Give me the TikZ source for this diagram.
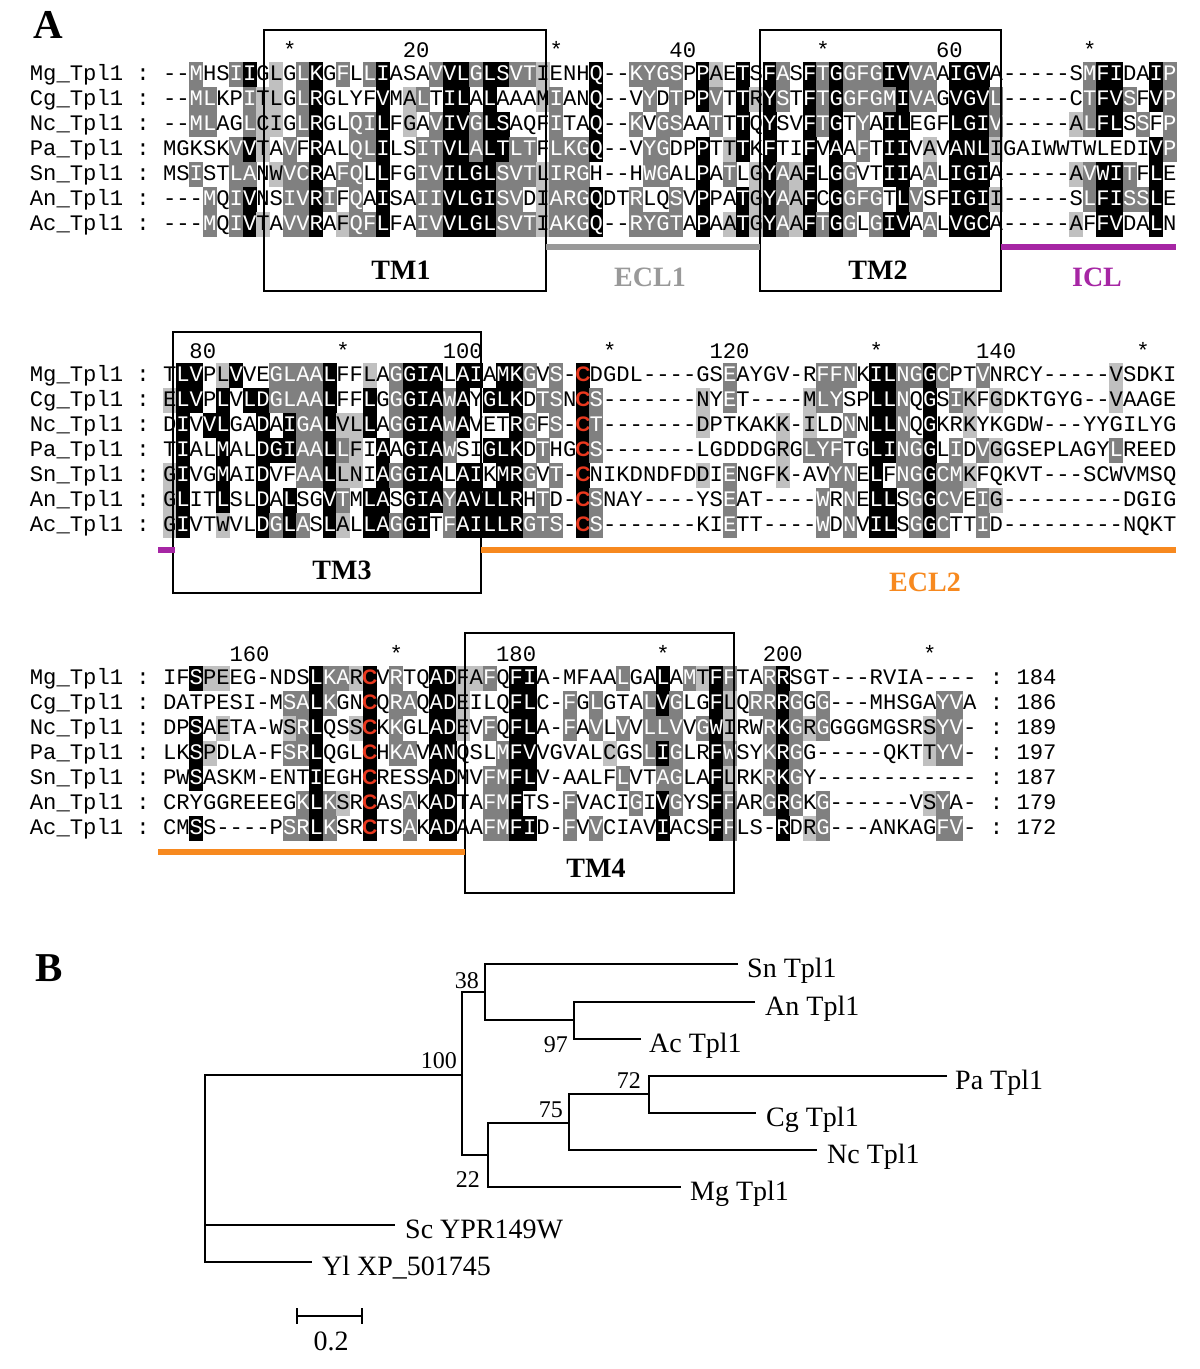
\documentclass[tikz,border=0pt]{standalone}
\usepackage{fontspec}
\setmainfont{Liberation Serif}
\setmonofont{Liberation Mono}
\newfontfamily\cysfont{Liberation Sans}
\usepackage{tikz}
\definecolor{lgrey}{HTML}{C0C0C0}
\definecolor{dgrey}{HTML}{808080}
\definecolor{cysred}{HTML}{E8381E}
\definecolor{eclgrey}{HTML}{999999}
\definecolor{iclpurple}{HTML}{A626A4}
\definecolor{eclorange}{HTML}{F7891F}

\newcommand{\seqfont}{\ttfamily\fontsize{22.2}{24}\selectfont}
\newcount\colno
% one residue: #1 letter, #2 shade code (0 white, 1 light, 2 dark, 3 black, 4 red C)
\newcommand{\seqcell}[2]{%
  \ifnum#2>0
    \fill[cell#2] ({163+13.3333*\the\colno-0.3},{\rowy-12.8}) rectangle ++(13.93,25.6);
  \fi
  \node[res,res#2] (\rowtag-\the\colno) at ({169.667+13.3333*\the\colno},{\rowy+6.3}) {#1};}
\def\seqstep#1#2\relax#3#4\relax{%
  \seqcell{#1}{#3}%
  \global\advance\colno by 1
  \ifx\relax#2\relax\else\seqstep#2\relax#4\relax\fi}
% #1 row centre, #2 block, #3 species, #4 residues, #5 shades
\newcommand{\seqrow}[5]{%
  \def\rowy{#1}\def\rowtag{#2#3}%
  \node[res,anchor=base west] (#2#3-name) at (29.7,{#1+6.3}) {#3\_Tpl1 :};
  \global\colno=0
  \seqstep#4\relax#5 00000000\relax}

\begin{document}
\begin{tikzpicture}[x=1pt,y=-1pt,
  res/.style={anchor=base,inner sep=0pt,font=\seqfont},
  res0/.style={text=black}, res1/.style={text=black},
  res2/.style={text=white}, res3/.style={text=white},
  res4/.style={text=cysred,font=\cysfont\bfseries\fontsize{21}{21}\selectfont},
  cell1/.style={fill=lgrey}, cell2/.style={fill=dgrey},
  cell3/.style={fill=black}, cell4/.style={fill=black},
  tmbox/.style={draw=black,line width=1.4pt},
  tmlbl/.style={font=\bfseries\fontsize{28}{28}\selectfont,inner sep=0pt},
  bar/.style={line width=6pt},
  panel/.style={font=\bfseries\fontsize{41}{41}\selectfont,inner sep=0pt,anchor=base west},
  branch/.style={line width=2.5pt,line join=miter},
  leaf/.style={font=\fontsize{28}{28}\selectfont,inner sep=0pt,anchor=base west},
  boot/.style={font=\fontsize{24}{24}\selectfont,inner sep=0pt,anchor=base east}]
\useasboundingbox (0,0) rectangle (1200,1369);
\fill[white] (0,0) rectangle (1200,1369);

\node[panel] (pA) at (33,38) {A};

% block 1
\seqrow{74.5}{a}{Mg}{--MHSIIGLGLKGFLLIASA VVLGLSVTIENHQ -- KYGSPPAETSFASFT GGFGIVVAAIGVA ----- SMFIDAIP}{00200230102302023000 2332332210003 00 222203103032032 3222332203330 00000 02330032}
\seqrow{99.5}{a}{Cg}{--MLKPITLGLRGLYFVMAL TILALAAAMIANQ -- VYDTPPVTTRYSTFT GGFGMIVAGVGVL ----- CTFVSFVP}{00220021102300003012 0330300012003 00 020203203132032 3222232203332 00000 02332032}
\seqrow{124.5}{a}{Nc}{--MLAGLCIGLRGLQILFGA VIVGLSAQFITAQ -- KVGSAATTTQYSVFT GTYAILEGFLGIV ----- ALFLSSFP}{00220021102300223010 2332330002003 00 202200203030032 3020330003332 00000 12330202}
\seqrow{149.5}{a}{Pa}{MGKSKVVTAVFRALQLILSI TVLALTLTFLKGQ -- VYGDPPTTTKFTIFV AAFTIIVAVANLI GAIWW TWLEDIVP}{00000231020300223002 2332332202223 00 022003013030030 3020330103331 00000 00000032}
\seqrow{174.5}{a}{Sn}{MSISTLANWVCRAFQLLFGI VILGLSVTLIRGH -- HWGALPATLGYAAFL GGVTIIAALIGIA ----- AVWITFLE}{00200220122302203002 2333322212220 00 022003020132130 3200330203330 00000 12332030}
\seqrow{199.5}{a}{An}{---MQIVNSIVRIFQAISAI IVLGISVDIARGQ DT RLQSVPPATGYAAFC GGFGTLVSFIGII ----- SLFISSLE}{00020230022320203002 2333322012223 00 200203003132130 3222032003331 00000 02332230}
\seqrow{224.5}{a}{Ac}{---MQIVTAVVRAFQFLFAI VVLGLSVTIAKGQ -- RYGTAPAATGYAAFT GGLGIVAALVGCA ----- AFFVDALN}{00020231022301223002 2333322212223 00 222203013132132 3202330203330 00000 10330030}

\foreach \hx/\hnum [count=\k] in {429.67/20,696.33/40,963/60}
  \node[res,anchor=base east] (hda\k) at (\hx,57) {\hnum};
\foreach \sx [count=\k] in {289.67,556.33,823,1089.67}
  \node[res] (sta\k) at (\sx,57) {*};

\draw[tmbox] (264,30) rectangle (546,291);
\draw[tmbox] (760,30) rectangle (1001,291);
\draw[bar,eclgrey] (546,246.5) -- (760,246.5);
\draw[bar,iclpurple] (1001,246.5) -- (1176,246.5);
\node[tmlbl] (tm1) at (401,270) {TM1};
\node[tmlbl] (tm2) at (878,270) {TM2};
\node[tmlbl,text=eclgrey] (ecl1) at (650,277) {ECL1};
\node[tmlbl,text=iclpurple] (icl) at (1097,277) {ICL};

% block 2
\seqrow{375.5}{b}{Mg}{TLVPLVVEGLAALFFLAGGI ALAIAMKGVS -CD GDL---- GSEAYGV- RFFNKILNGGCPTVN RCY-----VSDKI}{03301300222230010233 3033033202 040 0000000 00200000 022203322320020 0000000010000}
\seqrow{400.5}{b}{Cg}{ELVPLVLDGLAALFFLGGGI AWAYGLKDTS NCS ------- NYET---- MLYSPLLNQGSIKFG DKTGYG--VAAGE}{13303033222230030233 3230333022 042 0000000 10200000 122003320302101 0000000010000}
\seqrow{425.5}{b}{Nc}{DIVVLGADAIGALVLLAGGI AWAVETRGFS -CT ------- DPTKAKK- ILDNNLLNQGKRKYK GDW---YYGILYG}{03033003032231130233 3230003202 042 0000000 10000010 100203320300100 0000000000000}
\seqrow{450.5}{b}{Pa}{TIALMALDGIAALLFIAAGI AWSIGLKDTH GCS ------- LGDDDGRG LYFTGLINGGLIDVG GSEPLAGYLREED}{03003003332232103033 3200333020 042 0000000 00000010 222003322302021 0000000020000}
\seqrow{475.5}{b}{Sn}{GIVGMAIDVFAALLNIAGGI ALAIKMRGVT -CN IKDNDFD DIENGFK- AVYNELFNGGCMKFQ KVT---SCWVMSQ}{13003003002231103233 3033033202 040 0000000 10200010 002203022322100 0000000000000}
\seqrow{500.5}{b}{An}{GLITLSLDALSGVTMLASGI AYAVLLRHTD -CS NAY---- YSEAT--- -WRNELLSGGCVEIG ---------DGIG}{13003003030032033033 3233333020 042 0000000 00200000 020203302322021 0000000000000}
\seqrow{525.5}{b}{Ac}{GIVTWVLDGLASLALLAGGI TFAILLRGTS -CS ------- KIETT--- -WDNVILSGGCTTID ---------NQKT}{13001003232031033233 0233333222 042 0000000 00200000 020203302320020 0000000000000}

\foreach \hx/\hnum [count=\k] in {216.33/80,483/100,749.67/120,1016.33/140}
  \node[res,anchor=base east] (hdb\k) at (\hx,358) {\hnum};
\foreach \sx [count=\k] in {343,609.67,876.33,1143}
  \node[res] (stb\k) at (\sx,358) {*};

\draw[tmbox] (173,332) rectangle (481,593);
\draw[bar,iclpurple] (158,550) -- (175,550);
\draw[bar,eclorange] (481,550) -- (1176,550);
\node[tmlbl] (tm3) at (342,570) {TM3};
\node[tmlbl,text=eclorange] (ecl2) at (925,582) {ECL2};

% block 3
\seqrow{678.5}{c}{Mg}{IFSPEEG-NDSLKARCVRTQ ADFAFQFIA- MFAALGALAM TFFTARRSGT ---RVIA----}{00311000000322140200 3311203300 0000200302 1320023000 00000000000}
\seqrow{703.5}{c}{Cg}{DATPESI-MSALKGNCQRAQ ADEILQFLC- FGLGTALVGL GFLQRRRGGG ---MHSGAYVA}{00000000022320040220 3310003300 2020002320 0310223202 00000000220}
\seqrow{728.5}{c}{Nc}{DPSAETA-WSRLQSSCKKGL ADEVFQFLA- FAVLVVLLVV GWIRWRKGRG GGGMGSRSYV-}{00301000012300140200 3310203300 2020202220 2310023212 00000001220}
\seqrow{753.5}{c}{Pa}{LKSPDLA-FSRLQGLCHKAV ANQSLMFVVG VALCGSLIGL RFWSYKRGG- ----QKTTYV-}{00310000022300040220 3300023300 0001002320 0320023200 00000001220}
\seqrow{778.5}{c}{Sn}{PWSASKM-ENTIEGHCRESS ADMVFMFLV- AALFLVTAGL AFLRKRKGY- -----------}{00300000000300040000 3300223300 0000200220 0310023200 00000000000}
\seqrow{803.5}{c}{An}{CRYGGREEEGKLKSRCASAK ADTAFMFTS- FVACIGIVGY SFFARGRGKG ------VSYA-}{00000000002321040020 3300223000 2000020320 0320023202 00000001200}
\seqrow{828.5}{c}{Ac}{CMSS----PSRLKSRCTSAK ADAAFMFID- FVVCIAVIAC SFFLS-RDRG ---ANKAGFV-}{00300000022320040020 3300223300 2020000300 0320003012 00000000220}

\foreach \nm/\seqlen [count=\k from 0] in {Mg/184,Cg/186,Nc/189,Pa/197,Sn/187,An/179,Ac/172}
  \node[res,anchor=base west] (c\nm-len) at (989.7,{678.5+25*\k+6.3}) {: \seqlen};
\foreach \hx/\hnum [count=\k] in {269.67/160,536.33/180,803/200}
  \node[res,anchor=base east] (hdc\k) at (\hx,661) {\hnum};
\foreach \sx [count=\k] in {396.33,663,929.67}
  \node[res] (stc\k) at (\sx,661) {*};

\draw[tmbox] (465,633) rectangle (734,893);
\draw[bar,eclorange] (158,852) -- (465,852);
\node[tmlbl] (tm4) at (596,868) {TM4};

% tree
\node[panel] (pB) at (35,981) {B};
\coordinate (root) at (205,1075);
\coordinate (n100) at (462,1075);
\coordinate (n38) at (485,992);
\coordinate (n97) at (574,1020);
\coordinate (n22) at (488,1155);
\coordinate (n75) at (569,1123);
\coordinate (n72) at (649,1094);
\coordinate (sn) at (738,964);
\coordinate (an) at (755,1002);
\coordinate (ac) at (641,1039);
\coordinate (pa) at (947,1076);
\coordinate (cg) at (756,1113);
\coordinate (nc) at (817,1150);
\coordinate (mg) at (681,1187);
\coordinate (sc) at (395,1225);
\coordinate (yl) at (312,1262);

\draw[branch] (sn) -| (n38) |- (n97);
\draw[branch] (an) -| (n97) |- (ac);
\draw[branch] (pa) -| (n72) |- (cg);
\draw[branch] (n72) -| (n75) |- (nc);
\draw[branch] (n75) -| (n22) |- (mg);
\draw[branch] (n38) -| (n100) |- (n22);
\draw[branch] (n100) -| (root) |- (yl);
\draw[branch] (root) |- (sc);

\node[leaf] (lsn) at (747,977) {Sn Tpl1};
\node[leaf] (lan) at (765,1015) {An Tpl1};
\node[leaf] (lac) at (649,1052) {Ac Tpl1};
\node[leaf] (lpa) at (955,1089) {Pa Tpl1};
\node[leaf] (lcg) at (766,1126) {Cg Tpl1};
\node[leaf] (lnc) at (827,1163) {Nc Tpl1};
\node[leaf] (lmg) at (690,1200) {Mg Tpl1};
\node[leaf] (lsc) at (405,1238) {Sc YPR149W};
\node[leaf] (lyl) at (322,1275) {Yl XP\_501745};

\node[boot] (b38) at (479,988) {38};
\node[boot] (b100) at (457,1068) {100};
\node[boot] (b97) at (568,1052) {97};
\node[boot] (b75) at (563,1117) {75};
\node[boot] (b22) at (480,1187) {22};
\node[boot] (b72) at (641,1088) {72};

% scale bar
\coordinate (sbl) at (297,1316);
\coordinate (sbr) at (362,1316);
\draw[line width=2.4pt] (sbl) -- (sbr);
\draw[line width=2.4pt] ([yshift=8pt]sbl) -- ([yshift=-8pt]sbl);
\draw[line width=2.4pt] ([yshift=8pt]sbr) -- ([yshift=-8pt]sbr);
\node[leaf,anchor=base] (sblbl) at (331,1350) {0.2};
\end{tikzpicture}
\end{document}
